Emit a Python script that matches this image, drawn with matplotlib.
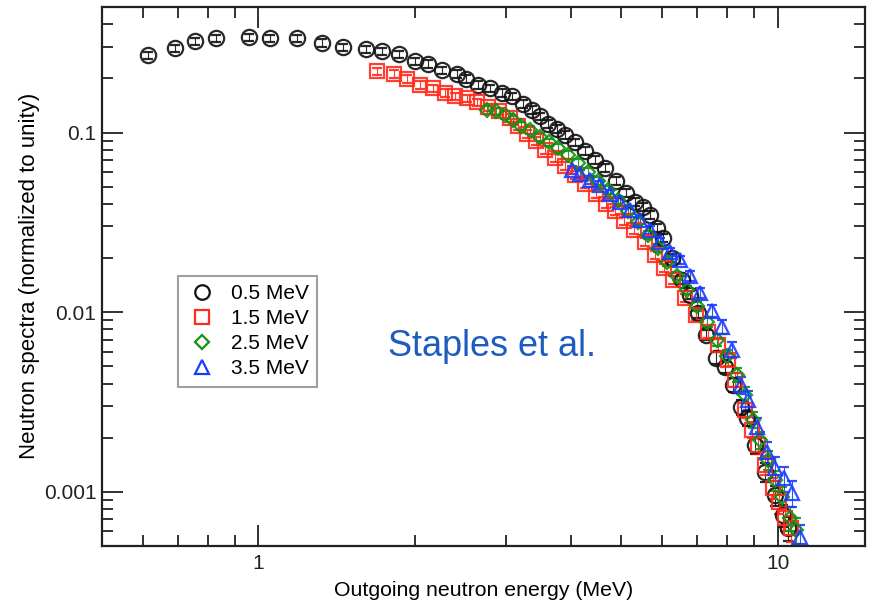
"""Neutron spectra for several incident energies (Staples et al.)"""
import matplotlib
matplotlib.use('Agg')
import matplotlib.pyplot as plt
from matplotlib.lines import Line2D
from matplotlib.ticker import FixedLocator, FixedFormatter, NullFormatter

plt.rcParams['font.family'] = ['Liberation Sans', 'DejaVu Sans']

# ---- data (energy in MeV, spectrum normalised to unity)
labels = ['0.5 MeV', '1.5 MeV', '2.5 MeV', '3.5 MeV']

e_05 = [0.614, 0.692, 0.756, 0.830, 0.961, 1.055, 1.189, 1.328, 1.458, 1.615,
        1.727, 1.870, 2.00, 2.118, 2.254, 2.409, 2.507, 2.644, 2.789, 2.941,
        3.074, 3.228, 3.360, 3.481, 3.607, 3.754, 3.890, 4.067, 4.251, 4.445,
        4.647, 4.879, 5.10, 5.308, 5.50, 5.674, 5.853, 6.011, 6.256, 6.540,
        6.776, 7.020, 7.275, 7.603, 7.914, 8.20, 8.497, 8.727, 9.042, 9.452,
        9.881, 10.24, 10.46]
s_05 = [0.269, 0.294, 0.322, 0.334, 0.339, 0.334, 0.334, 0.314, 0.298, 0.290,
        0.283, 0.272, 0.249, 0.240, 0.222, 0.211, 0.198, 0.185, 0.176, 0.167,
        0.159, 0.145, 0.133, 0.123, 0.112, 0.105, 0.0975, 0.0880, 0.0794, 0.0707,
        0.0638, 0.0540, 0.0463, 0.0412, 0.0387, 0.0349, 0.0295, 0.0260, 0.0201, 0.0151,
        0.0125, 0.00991, 0.00747, 0.00556, 0.00495, 0.00393, 0.00296, 0.00257, 0.00182, 0.00129,
        0.000957, 0.000741, 0.000627]
r_05 = [0.05] * 41 + [0.06, 0.07, 0.08, 0.08, 0.09, 0.10, 0.10, 0.11, 0.12, 0.13, 0.14, 0.15]

e_15 = [1.696, 1.829, 1.929, 2.044, 2.165, 2.284, 2.387, 2.518, 2.633, 2.764,
        2.902, 3.047, 3.157, 3.286, 3.420, 3.559, 3.721, 3.890, 4.067, 4.251,
        4.464, 4.667, 4.857, 5.055, 5.284, 5.548, 5.801, 6.037, 6.284, 6.628,
        6.958, 7.339, 7.672, 8.021, 8.275, 8.650, 8.923, 9.164, 9.452, 9.793,
        10.06, 10.33, 10.61]
s_15 = [0.219, 0.211, 0.198, 0.185, 0.176, 0.167, 0.159, 0.155, 0.147, 0.138,
        0.131, 0.121, 0.109, 0.0987, 0.0902, 0.0804, 0.0725, 0.0655, 0.0583, 0.0520,
        0.0457, 0.0402, 0.0367, 0.0323, 0.0288, 0.0247, 0.0209, 0.0177, 0.0151, 0.0120,
        0.00966, 0.00776, 0.00657, 0.00542, 0.00419, 0.00285, 0.00221, 0.00182, 0.00141, 0.00105,
        0.000875, 0.000712, 0.000627]
r_15 = [0.05] * 30 + [0.06, 0.07, 0.08, 0.08, 0.09, 0.10, 0.10, 0.11, 0.12, 0.13, 0.14, 0.15, 0.16]

e_25 = [2.752, 2.863, 2.981, 3.089, 3.200, 3.330, 3.481, 3.622, 3.771, 3.943,
        4.121, 4.308, 4.504, 4.708, 4.922, 5.145, 5.379, 5.623, 5.878, 6.117,
        6.396, 6.686, 6.990, 7.307, 7.638, 7.985, 8.348, 8.650, 8.964, 9.246,
        9.578, 9.881, 10.19, 10.56, 10.85]
s_25 = [0.134, 0.131, 0.126, 0.118, 0.109, 0.103, 0.0950, 0.0880, 0.0825, 0.0754,
        0.0680, 0.0606, 0.0540, 0.0481, 0.0423, 0.0367, 0.0319, 0.0270, 0.0228, 0.0191,
        0.0159, 0.0133, 0.0108, 0.00883, 0.00701, 0.00571, 0.00447, 0.00346, 0.00251, 0.00194,
        0.00150, 0.00116, 0.000933, 0.000712, 0.000611]
r_25 = [0.05] * 22 + [0.06, 0.07, 0.08, 0.08, 0.09, 0.10, 0.10, 0.11, 0.12, 0.13, 0.14, 0.15, 0.16]

e_35 = [4.012, 4.158, 4.346, 4.544, 4.750, 4.966, 5.191, 5.427, 5.674, 5.932,
        6.201, 6.482, 6.776, 7.084, 7.469, 7.808, 8.164, 8.497, 8.765, 9.123,
        9.537, 9.881, 10.28, 10.66, 11.04]
s_35 = [0.0622, 0.0591, 0.0547, 0.0513, 0.0457, 0.0412, 0.0372, 0.0327, 0.0288, 0.0247,
        0.0217, 0.0196, 0.0159, 0.0128, 0.0102, 0.00828, 0.00616, 0.00393, 0.00324, 0.00229,
        0.00166, 0.00135, 0.00119, 0.000982, 0.000558]
r_35 = [0.05] * 12 + [0.06, 0.07, 0.08, 0.09, 0.10, 0.11, 0.12, 0.13, 0.14, 0.15, 0.16, 0.16, 0.17]

x_ticks = [1, 10]
y_ticks = [0.001, 0.01, 0.1]
y_tick_labels = ['0.001', '0.01', '0.1']

series = [(e_05, s_05, r_05), (e_15, s_15, r_15), (e_25, s_25, r_25), (e_35, s_35, r_35)]
colors = ['#111111', '#ff2a1a', '#139213', '#1a3cff']
markers = ['o', 's', 'D', '^']
sizes = [11, 10, 7.5, 10.5]

fig = plt.figure(figsize=(8.71, 6.0), dpi=100)
ax = fig.add_axes([0.1171, 0.0905, 0.8760, 0.8978])
ax.set_xscale('log')
ax.set_yscale('log')

for (e, s, r), c, m, ms in zip(series, colors, markers, sizes):
    err = [v * f for v, f in zip(s, r)]
    ax.errorbar(e, s, yerr=err, fmt=m, ms=ms, mfc='none', mec=c, mew=1.6,
                ecolor=c, elinewidth=0.8, capsize=3.5, capthick=0.8, alpha=0.9)

ax.set_xlim(0.5, 14.73)
ax.set_ylim(0.0005, 0.5)

ax.xaxis.set_major_locator(FixedLocator(x_ticks))
ax.xaxis.set_major_formatter(FixedFormatter([str(t) for t in x_ticks]))
ax.xaxis.set_minor_formatter(NullFormatter())
ax.yaxis.set_major_locator(FixedLocator(y_ticks))
ax.yaxis.set_major_formatter(FixedFormatter(y_tick_labels))
ax.yaxis.set_minor_formatter(NullFormatter())
ax.tick_params(which='both', direction='in', top=True, right=True,
               labelsize=15, width=1.3, colors='#222222')
ax.tick_params(which='major', length=15)
ax.tick_params(axis='x', which='major', pad=6)
ax.tick_params(axis='y', which='major', pad=4)
ax.tick_params(which='minor', length=8)
for sp in ax.spines.values():
    sp.set_linewidth(1.6)
    sp.set_color('#222222')

ax.set_xlabel('Outgoing neutron energy (MeV)', fontsize=15.3, labelpad=6)
ax.set_ylabel('Neutron spectra (normalized to unity)', fontsize=16, labelpad=3)

# legend with markers only
handles = [Line2D([], [], ls='none', marker=m, ms=ms * 0.95, mfc='none', mec=c, mew=1.6)
           for c, m, ms in zip(colors, markers, sizes)]
leg = ax.legend(handles, labels, loc='upper left', bbox_to_anchor=(0.0996, 0.5006),
                borderaxespad=0, fontsize=15, frameon=True, fancybox=False,
                handlelength=1.55, handletextpad=0.6, labelspacing=0.29,
                borderpad=0.4)
leg.get_frame().set_edgecolor('#888888')
leg.get_frame().set_linewidth(1.5)

ax.text(0.511, 0.37, 'Staples et al.', transform=ax.transAxes, fontsize=26,
        color='#1d5bbf', ha='center', va='center')

fig.savefig('out.png', dpi=100)
